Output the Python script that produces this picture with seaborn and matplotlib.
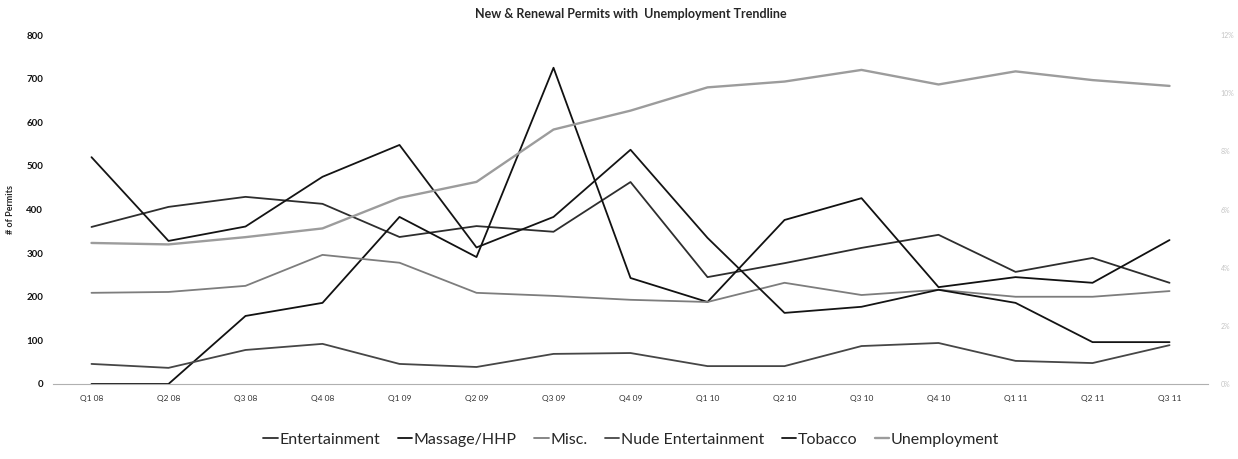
import matplotlib
matplotlib.use("Agg")
import matplotlib.pyplot as plt
import seaborn as sns
import pandas as pd
from matplotlib.lines import Line2D
from matplotlib.ticker import FuncFormatter

# values
quarters = ["Q1 08", "Q2 08", "Q3 08", "Q4 08", "Q1 09", "Q2 09", "Q3 09", "Q4 09",
            "Q1 10", "Q2 10", "Q3 10", "Q4 10", "Q1 11", "Q2 11", "Q3 11"]
entertainment = [360, 406, 429, 413, 337, 362, 349, 463, 245, 277, 312, 342, 257, 289, 232]
massage_hhp = [0, 0, 156, 186, 383, 291, 725, 243, 188, 376, 426, 222, 245, 232, 330]
misc = [209, 211, 225, 296, 278, 209, 202, 193, 188, 232, 204, 216, 200, 200, 213]
nude_entertainment = [46, 37, 78, 92, 46, 39, 69, 71, 41, 41, 87, 94, 53, 48, 89]
tobacco = [520, 328, 361, 475, 548, 313, 383, 537, 335, 163, 177, 216, 186, 96, 96]
unemployment = [4.85, 4.8, 5.05, 5.35, 6.4, 6.95, 8.75, 9.4, 10.2, 10.4, 10.8, 10.3, 10.75, 10.45, 10.25]

series = {
    "Entertainment": entertainment,
    "Massage/HHP": massage_hhp,
    "Misc.": misc,
    "Nude Entertainment": nude_entertainment,
    "Tobacco": tobacco,
}
colors = {
    "Entertainment": "#2e2e2e",
    "Massage/HHP": "#111111",
    "Misc.": "#7d7d7d",
    "Nude Entertainment": "#464646",
    "Tobacco": "#141414",
}
unemp_color = "#9c9c9c"

sns.set_style("white")
plt.rcParams['font.family'] = ['Lato', 'DejaVu Sans']

pos = list(range(len(quarters)))

fig = plt.figure(figsize=(12.38, 4.59), dpi=100)
ax = fig.add_axes([0.0428, 0.1634, 0.933, 0.7603])

for name, vals in series.items():
    sns.lineplot(x=pos, y=vals, ax=ax, color=colors[name], linewidth=1.3, sort=False)

ax2 = ax.twinx()
sns.lineplot(x=pos, y=unemployment, ax=ax2, color=unemp_color, linewidth=1.7, sort=False)

ax.set_xlim(-0.5, 14.5)
ax.set_ylim(0, 800)
ax.set_yticks(range(0, 801, 100))
ax2.set_ylim(0, 12)
ax2.set_yticks(range(0, 13, 2))
ax2.yaxis.set_major_formatter(FuncFormatter(lambda v, p: f"{v:.0f}%"))

ax.set_xticks(pos)
ax.set_xticklabels(quarters, fontsize=6, color="#333333")
ax.tick_params(axis="y", labelsize=7, length=0, pad=7, labelcolor="#111111")
ax.tick_params(axis="x", length=0, pad=8)
for t in ax.get_yticklabels():
    t.set_fontweight("bold")
ax2.tick_params(axis="y", labelsize=5, length=0, pad=9, labelcolor="#c4c4c4")

ax.set_ylabel("# of Permits", fontsize=6.5, fontweight="bold", labelpad=8)
ax.set_xlabel("")
ax.set_title("New & Renewal Permits with  Unemployment Trendline",
             fontsize=9, fontweight="bold", pad=12, x=0.5)

for a in (ax, ax2):
    for s in a.spines.values():
        s.set_visible(False)
ax.spines["bottom"].set_visible(True)
ax.spines["bottom"].set_color("#b0b0b0")
ax.spines["bottom"].set_linewidth(0.8)
ax.spines["bottom"].set_linestyle((0, (2, 1)))

handles = [Line2D([0], [0], color=colors[n], lw=1.3) for n in series]
handles.append(Line2D([0], [0], color=unemp_color, lw=1.7))
labels = list(series.keys()) + ["Unemployment"]
fig.legend(handles, labels, loc="center", bbox_to_anchor=(0.51, 0.042), ncol=6,
           frameon=False, fontsize=11.5, handlelength=0.9, handletextpad=0.1,
           columnspacing=1.1)

fig.savefig("out.png", dpi=100)
